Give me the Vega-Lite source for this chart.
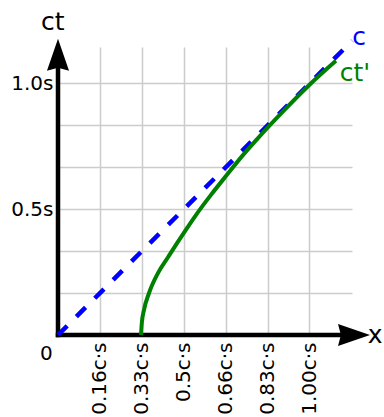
{
  "$schema": "https://vega.github.io/schema/vega-lite/v6.json",
  "width": 294,
  "height": 288,
  "autosize": {"type": "none"},
  "padding": {"left": 58, "top": 47, "right": 32, "bottom": 82},
  "config": {"view": {"stroke": null}, "font": "DejaVu Sans"},
  "layer": [
    {
      "data": {"values": [
        {"axisline": "y", "x": 0, "t": 0, "x2": 0, "t2": 1.07},
        {"axisline": "x", "x": 0, "t": 0, "x2": 1.12, "t2": 0}
      ]},
      "mark": {"type": "rule", "color": "black", "strokeWidth": 4.5, "strokeCap": "square"},
      "encoding": {
        "x": {
          "field": "x", "type": "quantitative",
          "scale": {"domain": [0, 1.169], "nice": false, "zero": false},
          "axis": {
            "title": null,
            "values": [0.16667, 0.33333, 0.5, 0.66667, 0.83333, 1],
            "labelExpr": "datum.value < 0.25 ? '0.16c·s' : datum.value < 0.4 ? '0.33c·s' : datum.value < 0.6 ? '0.5c·s' : datum.value < 0.75 ? '0.66c·s' : datum.value < 0.9 ? '0.83c·s' : '1.00c·s'",
            "labelAngle": -90, "labelAlign": "right", "labelBaseline": "middle",
            "labelPadding": 7, "labelFontSize": 20, "labelColor": "black",
            "labelFont": "DejaVu Sans", "labelFlush": false, "labelOverlap": false,
            "domain": false, "ticks": false,
            "grid": true, "gridColor": "#cccccc", "gridWidth": 1.5
          }
        },
        "y": {
          "field": "t", "type": "quantitative",
          "scale": {"domain": [0, 1.145], "nice": false, "zero": false},
          "axis": {
            "title": null,
            "values": [0.16667, 0.33333, 0.5, 0.66667, 0.83333, 1],
            "labelExpr": "datum.value == 0.5 ? '0.5s' : datum.value == 1 ? '1.0s' : ''",
            "labelPadding": 5, "labelFontSize": 20, "labelColor": "black",
            "labelFont": "DejaVu Sans", "labelFlush": false, "labelOverlap": false,
            "domain": false, "ticks": false,
            "grid": true, "gridColor": "#cccccc", "gridWidth": 1.5
          }
        },
        "x2": {"field": "x2"},
        "y2": {"field": "t2"}
      }
    },
    {
      "data": {"values": [
        {"dir": "up", "x": 0, "t": 1.1145},
        {"dir": "right", "x": 1.177, "t": 0}
      ]},
      "mark": {"type": "point", "filled": true, "color": "black", "opacity": 1, "size": 1024, "strokeWidth": 0},
      "encoding": {
        "x": {"field": "x", "type": "quantitative"},
        "y": {"field": "t", "type": "quantitative"},
        "shape": {
          "field": "dir", "type": "nominal",
          "scale": {"domain": ["up", "right"], "range": ["M0,-1L0.69,1L0,0.82L-0.69,1Z", "M1,0L-1,-0.69L-0.82,0L-1,0.69Z"]},
          "legend": null
        }
      }
    },
    {
      "data": {"values": [
        {"x": 0, "t": 0},
        {"x": 1.17, "t": 1.17}
      ]},
      "mark": {"type": "line", "color": "#0000ff", "strokeWidth": 4.5, "strokeDash": [13, 13], "strokeCap": "butt"},
      "encoding": {
        "x": {"field": "x", "type": "quantitative"},
        "y": {"field": "t", "type": "quantitative"}
      }
    },
    {
      "data": {"values": [
        {"x": 0.330, "t": 0.000},
        {"x": 0.3335, "t": 0.050},
        {"x": 0.342, "t": 0.100},
        {"x": 0.362, "t": 0.167},
        {"x": 0.398, "t": 0.247},
        {"x": 0.438, "t": 0.310},
        {"x": 0.474, "t": 0.366},
        {"x": 0.513, "t": 0.425},
        {"x": 0.545, "t": 0.472},
        {"x": 0.609, "t": 0.558},
        {"x": 0.672, "t": 0.637},
        {"x": 0.737, "t": 0.717},
        {"x": 0.790, "t": 0.777},
        {"x": 0.890, "t": 0.884},
        {"x": 0.995, "t": 0.990},
        {"x": 1.105, "t": 1.090}
      ]},
      "mark": {"type": "line", "color": "#008000", "strokeWidth": 4, "interpolate": "monotone"},
      "encoding": {
        "x": {"field": "x", "type": "quantitative"},
        "y": {"field": "t", "type": "quantitative"}
      }
    },
    {
      "data": {"values": [
        {"name": "ct", "x": -0.068, "t": 1.214, "series": "axis"},
        {"name": "x", "x": 1.232, "t": -0.032, "series": "axis"},
        {"name": "c", "x": 1.170, "t": 1.154, "series": "c"},
        {"name": "ct'", "x": 1.120, "t": 1.008, "series": "ct'"}
      ]},
      "mark": {"type": "text", "align": "left", "baseline": "alphabetic", "fontSize": 25, "font": "DejaVu Sans"},
      "encoding": {
        "x": {"field": "x", "type": "quantitative"},
        "y": {"field": "t", "type": "quantitative"},
        "text": {"field": "name"},
        "color": {
          "field": "series", "type": "nominal",
          "scale": {"domain": ["axis", "c", "ct'"], "range": ["black", "#0000ff", "#008000"]},
          "legend": null
        }
      }
    },
    {
      "data": {"values": [
        {"name": "0", "x": -0.072, "t": -0.098}
      ]},
      "mark": {"type": "text", "align": "left", "baseline": "alphabetic", "fontSize": 20, "font": "DejaVu Sans", "color": "black"},
      "encoding": {
        "x": {"field": "x", "type": "quantitative"},
        "y": {"field": "t", "type": "quantitative"},
        "text": {"field": "name"}
      }
    }
  ]
}
